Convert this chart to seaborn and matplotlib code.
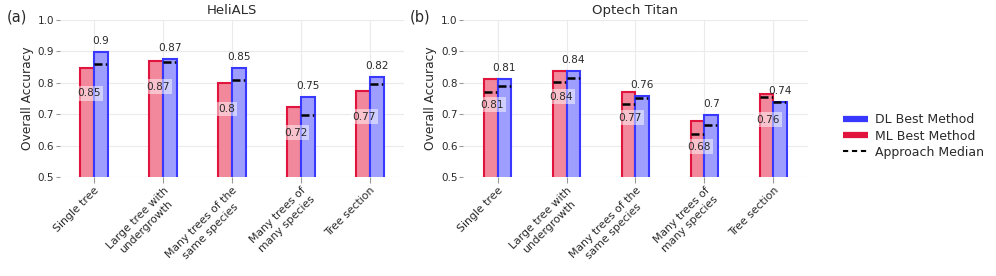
import numpy as np
import pandas as pd
import matplotlib
matplotlib.use('Agg')
import matplotlib.pyplot as plt
from matplotlib.lines import Line2D
import seaborn as sns

# --- data ---
categories = ['Single tree', 'Large tree with\nundergrowth', 'Many trees of the\nsame species',
              'Many trees of\nmany species', 'Tree section']
methods = ['ML Best Method', 'DL Best Method']

heli_ml = [0.848, 0.869, 0.798, 0.723, 0.774]
heli_dl = [0.897, 0.874, 0.848, 0.754, 0.819]
heli_ml_median = [None, None, None, None, None]
heli_dl_median = [0.858, 0.865, 0.808, 0.698, 0.795]

titan_ml = [0.812, 0.838, 0.771, 0.678, 0.764]
titan_dl = [0.812, 0.836, 0.758, 0.697, 0.738]
titan_ml_median = [0.769, 0.801, 0.733, 0.638, 0.754]
titan_dl_median = [0.788, 0.816, 0.750, 0.665, 0.737]

panels = [
    ('(a)', 'HeliALS', heli_ml, heli_dl, heli_ml_median, heli_dl_median),
    ('(b)', 'Optech Titan', titan_ml, titan_dl, titan_ml_median, titan_dl_median),
]

fill_colors = {'ML Best Method': '#f2889b', 'DL Best Method': '#9e9eff'}
edge_colors = {'ML Best Method': '#e0143c', 'DL Best Method': '#3838ff'}
TEXT = '#2a2a2a'
GRID = '#ebebeb'

sns.set_style('white')
plt.rcParams['font.family'] = ['DejaVu Sans']


def fmt(v):
    return f'{v:.2f}'.rstrip('0')


fig = plt.figure(figsize=(9.96, 2.76), dpi=100)
axes = [fig.add_axes([0.060, 0.359, 0.346, 0.569]),
        fig.add_axes([0.465, 0.359, 0.346, 0.569])]

for ax, (tag, title, ml, dl, ml_med, dl_med) in zip(axes, panels):
    df = pd.DataFrame({
        'category': categories * 2,
        'value': ml + dl,
        'method': [methods[0]] * len(categories) + [methods[1]] * len(categories),
    })
    sns.barplot(data=df, x='category', y='value', hue='method', hue_order=methods,
                order=categories, width=0.4, dodge=True, ax=ax, legend=False,
                palette=fill_colors, saturation=1, zorder=3)

    medians = {methods[0]: ml_med, methods[1]: dl_med}
    vals = {methods[0]: ml, methods[1]: dl}
    for container, m in zip(ax.containers, methods):
        for i, bar in enumerate(container):
            bar.set_edgecolor(edge_colors[m])
            bar.set_linewidth(1.5)
            x0 = bar.get_x()
            w = bar.get_width()
            xc = x0 + w / 2
            med = medians[m][i]
            if med is not None:
                ax.plot([x0, x0 + w], [med, med], color='black', lw=1.8,
                        linestyle=(0, (3.2, 1.3, 0.6, 1.3)), zorder=5,
                        solid_capstyle='butt', dash_capstyle='butt')
            v = vals[m][i]
            if m == methods[1]:
                ax.text(xc, v + 0.035, fmt(v), ha='center', va='center',
                        fontsize=7.6, color=TEXT, zorder=6)
            else:
                ax.text(xc + 0.02, v - 0.082, fmt(v), ha='center', va='center',
                        fontsize=7.6, color=TEXT, zorder=6,
                        bbox=dict(boxstyle='square,pad=0.22', fc='white', ec='none', alpha=0.5))

    ax.set_ylim(0.5, 1.0)
    ax.set_xlim(-0.5, len(categories) - 0.5)
    ax.set_yticks([0.5, 0.6, 0.7, 0.8, 0.9, 1.0])
    ax.set_yticklabels(['0.5', '0.6', '0.7', '0.8', '0.9', '1.0'])
    ax.grid(True, color=GRID, linewidth=0.8, zorder=0)
    ax.set_axisbelow(True)
    for s in ax.spines.values():
        s.set_visible(False)
    ax.tick_params(axis='y', left=True, length=3, width=0.8, color='#999999',
                   labelsize=7.5, labelcolor=TEXT, pad=1)
    ax.tick_params(axis='x', bottom=True, length=4, width=0.8, color='#999999',
                   labelsize=7.8, labelcolor=TEXT, pad=2)
    ax.set_xticks(range(len(categories)))
    ax.set_xticklabels(categories, rotation=45, ha='right', rotation_mode='anchor',
                       multialignment='center', linespacing=1.3)
    ax.set_xlabel('')
    ax.set_ylabel('Overall Accuracy', fontsize=8.8, color=TEXT, labelpad=3)
    ax.set_title(title, fontsize=9.5, color=TEXT, pad=4)
    ax.text(-0.125, 1.02, tag, transform=ax.transAxes, fontsize=10.5, color=TEXT,
            ha='center', va='center')

handles = [
    Line2D([0], [0], color='#3838ff', lw=4.5, solid_capstyle='butt'),
    Line2D([0], [0], color='#e0143c', lw=4.5, solid_capstyle='butt'),
    Line2D([0], [0], color='black', lw=1.5, linestyle=(0, (2.5, 1.8)), dash_capstyle='butt'),
]
fig.legend(handles, ['DL Best Method', 'ML Best Method', 'Approach Median'],
           loc='center left', bbox_to_anchor=(0.835, 0.507), frameon=False,
           fontsize=9, handlelength=2.0, labelspacing=0.25, handletextpad=0.6,
           labelcolor=TEXT)

fig.savefig('out.png', dpi=100)
